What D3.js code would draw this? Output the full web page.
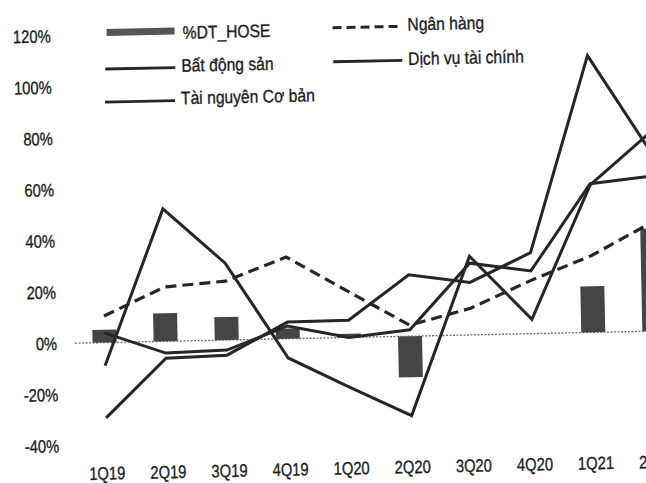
<!DOCTYPE html>
<html>
<head>
<meta charset="utf-8">
<script src="https://cdn.jsdelivr.net/npm/d3@7/dist/d3.min.js"></script>
<style>
  html, body { margin: 0; padding: 0; background: #fff; }
  svg { display: block; }
  text { font-family: "Liberation Sans", Arial, sans-serif; fill: #1c1c1c; stroke: #1c1c1c; stroke-width: 0.35px; }
</style>
</head>
<body>
<div id="chart"></div>
<script>
const categories = ["1Q19","2Q19","3Q19","4Q19","1Q20","2Q20","3Q20","4Q20","1Q21","2Q21"];
const dtHose        = [5, 11, 9, 4, 1.5, -16, 0, 0, 18, 40];
const nganHang      = [10.4, 21.2, 23, 31.9, 18, 4.3, 10.4, 20.8, 30, 42.5];
const batDongSan    = [-9, 51.7, 30, -7.5, -19.5, -31, 30.7, 5.6, 57.6, 77.6];
const dichVuTaiChinh= [-29.4, -6.6, -5.9, 6.5, 6.7, 24, 20.5, 31.6, 108, 70];
const taiNguyen     = [3.8, -4.6, -3.9, 5, 0, 2.5, 28, 24.5, 58, 60.5];
const yTicks = [-40, -20, 0, 20, 40, 60, 80, 100, 120];
const seriesNames = ["%DT_HOSE", "Ngân hàng", "Bất động sản", "Dịch vụ tài chính", "Tài nguyên Cơ bản"];

const W = 646, H = 483;
const svg = d3.select("#chart").append("svg").attr("width", W).attr("height", H);
const g = svg.append("g").attr("transform", "rotate(-1.2 323 241)");

const x = d3.scalePoint().domain(categories).range([102.5, 652.4]);
const y = d3.scaleLinear().domain([-40, 120]).range([440.5, 30.5]);
const ink = "#262626";
const tickScale = 0.82;

// zero line
g.append("line")
  .attr("x1", 73).attr("x2", 700)
  .attr("y1", y(0)).attr("y2", y(0))
  .attr("stroke", "#6a6a6a").attr("stroke-width", 1.3)
  .attr("stroke-dasharray", "2,1.5");

// y tick labels
g.append("g").selectAll("text").data(yTicks).join("text")
  .attr("transform", d => `translate(55,${y(d)}) scale(${tickScale},1)`)
  .attr("text-anchor", "end").attr("dy", "0.35em")
  .attr("font-size", 18)
  .text(d => d + "%");

// x tick labels
g.append("g").selectAll("text").data(categories).join("text")
  .attr("transform", d => `translate(${x(d)},475) scale(${tickScale},1)`)
  .attr("text-anchor", "middle")
  .attr("font-size", 18)
  .text(d => d);

// bars
const bw = 24;
g.append("g").selectAll("rect").data(dtHose).join("rect")
  .attr("x", (d, i) => x(categories[i]) - bw / 2)
  .attr("width", bw)
  .attr("y", d => Math.min(y(d), y(0)))
  .attr("height", d => Math.abs(y(d) - y(0)))
  .attr("fill", "#454545");

// lines
const line = d3.line().x((d, i) => x(categories[i])).y(d => y(d));
const solid = [batDongSan, dichVuTaiChinh, taiNguyen];
g.append("g").selectAll("path.solid").data(solid).join("path")
  .attr("class", "solid")
  .attr("d", line).attr("fill", "none")
  .attr("stroke", ink).attr("stroke-width", 3)
  .attr("stroke-linejoin", "miter");
g.append("path").datum(nganHang)
  .attr("d", line).attr("fill", "none")
  .attr("stroke", ink).attr("stroke-width", 3.2)
  .attr("stroke-dasharray", "11,6");

// legend
const leg = g.append("g");
const legFont = 18, legScale = 0.87;
function legText(tx, ty, t) {
  leg.append("text")
    .attr("transform", `translate(${tx},${ty}) scale(${legScale},1)`)
    .attr("dy", "0.35em").attr("font-size", legFont).text(t);
}
leg.append("rect").attr("x", 111).attr("y", 24.5).attr("width", 68).attr("height", 7).attr("fill", "#555");
legText(187, 29.5, seriesNames[0]);
leg.append("line").attr("x1", 109).attr("x2", 179).attr("y1", 64.5).attr("y2", 64.5)
  .attr("stroke", ink).attr("stroke-width", 2.8);
legText(185, 62.5, seriesNames[2]);
leg.append("line").attr("x1", 108).attr("x2", 178).attr("y1", 97.5).attr("y2", 97.5)
  .attr("stroke", ink).attr("stroke-width", 2.8);
legText(184, 95, seriesNames[4]);
leg.append("line").attr("x1", 337).attr("x2", 406).attr("y1", 28).attr("y2", 28)
  .attr("stroke", ink).attr("stroke-width", 3).attr("stroke-dasharray", "9,5");
legText(412, 26, seriesNames[1]);
leg.append("line").attr("x1", 337).attr("x2", 406).attr("y1", 62).attr("y2", 62)
  .attr("stroke", ink).attr("stroke-width", 2.8);
legText(412, 60.5, seriesNames[3]);
</script>
</body>
</html>
